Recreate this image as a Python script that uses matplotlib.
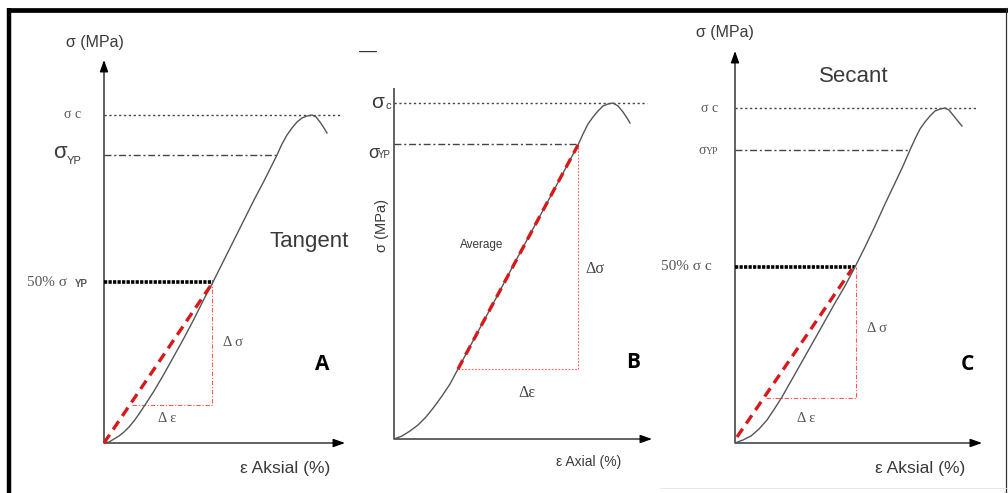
import matplotlib
matplotlib.use("Agg")
import matplotlib.pyplot as plt
from matplotlib.lines import Line2D

W, H = 1008, 493

# ---------------- data (in pixel-like units; x = strain, y = stress) ----------
# Panel A : Tangent
strain_A = [0, 5, 10, 15, 20, 25, 30, 35, 41, 50, 60, 70, 80, 90, 100, 109, 120, 130, 140, 150,
            160, 173, 178, 183, 188, 193, 198, 203, 208, 212, 216, 220, 223]
stress_A = [0, 1, 4, 7, 11, 16, 22, 29, 38, 52, 69, 87, 105, 124, 144, 161, 183, 203, 223, 243,
            262, 288, 299, 308, 315, 321, 325, 327, 328, 326, 321, 315, 310]
sigma_c_A, sigma_yp_A, half_A = 328, 288, 161
x_c_end_A, x_yp_end_A, x_half_end_A = 236, 173, 109
tangent_A = ([0, 107], [0, 158])
tri_A = ([28, 108, 108], [38, 38, 161])

# Panel B : Average
strain_B = [0, 8, 16, 24, 32, 40, 48, 56, 64, 80, 100, 120, 140, 160, 184, 189, 194, 199, 204,
            209, 214, 219, 224, 229, 233, 236]
stress_B = [0, 3, 8, 14, 22, 32, 43, 55, 70, 100, 137, 175, 212, 249, 294, 305, 315, 322, 328,
            333, 335, 336, 333, 327, 321, 316]
sigma_c_B, sigma_yp_B = 336, 295
x_c_end_B, x_yp_end_B = 253, 184
average_B = ([64, 184], [70, 294])
tri_B = ([64, 184, 184], [70, 70, 294])

# Panel C : Secant
strain_C = [0, 8, 16, 24, 32, 40, 47, 60, 73, 86, 100, 110, 120, 130, 140, 150, 160, 168, 175,
            180, 185, 190, 195, 200, 205, 210, 214, 218, 222, 227]
stress_C = [0, 3, 7, 14, 23, 35, 46, 69, 92, 115, 140, 157, 176, 196, 217, 239, 260, 277, 293,
            304, 314, 321, 327, 332, 334, 335, 333, 328, 323, 317]
sigma_c_C, sigma_yp_C, half_C = 335, 293, 176
x_c_end_C, x_yp_end_C, x_half_end_C = 242, 175, 120
secant_C = ([2, 117], [6, 174])
tri_C = ([31, 121, 121], [45, 45, 176])

# origins of the three panels (pixels from the top-left of the picture)
origins = {"A": (104, 443), "B": (394, 439), "C": (735, 443)}
axis_len = {"A": (239, 381), "B": (256, 351), "C": (245, 390)}

SANS = ["Liberation Sans", "DejaVu Sans"]
SERIF = ["Liberation Serif", "DejaVu Serif"]
BOLD = ["Open Sans", "DejaVu Sans"]

CURVE = "#555555"
RED = "#d61a1a"
LRED = "#ff5a5a"
TXT = "#3a3a3a"

fig = plt.figure(figsize=(W / 100, H / 100), dpi=100)
fig.patch.set_facecolor("white")


def panel(key):
    ox, oy = origins[key]
    ax = fig.add_axes([0, 0, 1, 1])
    ax.set_xlim(-ox, W - ox)
    ax.set_ylim(-(H - oy), oy)
    ax.axis("off")
    ax.patch.set_alpha(0)
    return ax


def axes_arrows(ax, key, head_y=True):
    lx, ly = axis_len[key]
    ax.plot([0, lx], [0, 0], color="#555555", lw=1.3, solid_capstyle="butt")
    ax.plot([0, 0], [0, ly], color="#555555", lw=1.3, solid_capstyle="butt")
    ax.annotate("", xy=(lx + 2, 0), xytext=(lx - 8, 0),
                arrowprops=dict(arrowstyle="-|>,head_length=0.7,head_width=0.25",
                                color="black", lw=1.0, shrinkA=0, shrinkB=0))
    if head_y:
        ax.annotate("", xy=(0, ly + 2), xytext=(0, ly - 8),
                    arrowprops=dict(arrowstyle="-|>,head_length=0.7,head_width=0.25",
                                    color="black", lw=1.0, shrinkA=0, shrinkB=0))


dotted = (0, (1.6, 1.9))
dashdot = (0, (5, 2, 1.5, 2))
thickdot = (0, (0.9, 0.35))
reddash = (0, (3.0, 1.9))
reddd = (0, (4, 1.6, 1, 1.6))

# ---------------- Panel A ----------------
ax = panel("A")
axes_arrows(ax, "A")
ax.plot([0, x_c_end_A], [sigma_c_A, sigma_c_A], color="#444444", lw=1.0, ls=dotted)
ax.plot([0, x_yp_end_A], [sigma_yp_A, sigma_yp_A], color="#444444", lw=1.0, ls=dashdot)
ax.plot([0, x_half_end_A], [half_A, half_A], color="black", lw=2.6, ls=thickdot)
ax.plot(tri_A[0], tri_A[1], color=LRED, lw=0.8, ls=reddd)
ax.plot(strain_A, stress_A, color=CURVE, lw=1.0)
ax.plot(tangent_A[0], tangent_A[1], color=RED, lw=2.4, ls=reddash)
ax.text(-9, 401, "σ (MPa)", family=SANS, fontsize=11.5, color=TXT, ha="center", va="center")
ax.text(-23, 328, "σ c", family=SERIF, fontsize=10, color="#555555", ha="right", va="center")
ax.text(-37, 291, "σ", family=SANS, fontsize=16, color=TXT, ha="right", va="center")
ax.text(-22, 282, "YP", family=SANS, fontsize=8, color=TXT, ha="right", va="center")
ax.text(-37, 161, "50% σ", family=SERIF, fontsize=11, color="#555555", ha="right", va="center")
ax.text(-16, 159, "YP", family=SANS, fontsize=7, color="#555555", ha="right", va="center", weight="bold")
ax.text(205, 202, "Tangent", family=SANS, fontsize=16, color=TXT, ha="center", va="center")
ax.text(119, 100, "Δ σ", family=SERIF, fontsize=10.5, color="#555555", ha="left", va="center")
ax.text(54, 25, "Δ ε", family=SERIF, fontsize=10.5, color="#555555", ha="left", va="center")
ax.text(218, 78, "A", family=BOLD, fontsize=15, weight="bold", color="black", ha="center", va="center")
ax.text(181, -25, "ε Aksial (%)", family=SANS, fontsize=12.5, color=TXT, ha="center", va="center")

# ---------------- Panel B ----------------
ax = panel("B")
axes_arrows(ax, "B", head_y=False)
ax.plot([0, x_c_end_B], [sigma_c_B, sigma_c_B], color="#444444", lw=1.0, ls=dotted)
ax.plot([0, x_yp_end_B], [sigma_yp_B, sigma_yp_B], color="#444444", lw=1.0, ls=dashdot)
ax.plot(tri_B[0], tri_B[1], color=LRED, lw=0.8, ls=(0, (1.5, 1.5)))
ax.plot(strain_B, stress_B, color=CURVE, lw=1.0)
ax.plot(average_B[0], average_B[1], color=RED, lw=2.4, ls=reddash)
ax.text(-26, 388, "—", family=SANS, fontsize=13, color="#333333", ha="center", va="center")
ax.text(-10, 337, "σ", family=SANS, fontsize=15, color=TXT, ha="right", va="center")
ax.text(-3, 333, "c", family=SANS, fontsize=8, color=TXT, ha="right", va="center")
ax.text(-15, 286, "σ", family=SANS, fontsize=13, color=TXT, ha="right", va="center")
ax.text(-3, 284, "YP", family=SANS, fontsize=7, color=TXT, ha="right", va="center")
ax.text(-12, 214, "σ (MPa)", family=SANS, fontsize=10.5, color=TXT, ha="center", va="center",
        rotation=90)
ax.text(88, 194, "Average", family=SANS, fontsize=8.5, color=TXT, ha="center", va="center")
ax.text(191, 170, "Δσ", family=SERIF, fontsize=11.5, color="#444444", ha="left", va="center")
ax.text(124, 46, "Δε", family=SERIF, fontsize=11.5, color="#444444", ha="left", va="center")
ax.text(239, 76, "B", family=BOLD, fontsize=15, weight="bold", color="black", ha="center", va="center")
ax.text(195, -23, "ε Axial (%)", family=SANS, fontsize=10, color=TXT, ha="center", va="center")

# ---------------- Panel C ----------------
ax = panel("C")
axes_arrows(ax, "C")
ax.plot([0, x_c_end_C], [sigma_c_C, sigma_c_C], color="#444444", lw=1.0, ls=dotted)
ax.plot([0, x_yp_end_C], [sigma_yp_C, sigma_yp_C], color="#444444", lw=1.0, ls=dashdot)
ax.plot([0, x_half_end_C], [half_C, half_C], color="black", lw=2.6, ls=thickdot)
ax.plot(tri_C[0], tri_C[1], color=LRED, lw=0.8, ls=reddd)
ax.plot(strain_C, stress_C, color=CURVE, lw=1.0)
ax.plot(secant_C[0], secant_C[1], color=RED, lw=2.4, ls=reddash)
ax.text(-10, 410, "σ (MPa)", family=SANS, fontsize=11.5, color=TXT, ha="center", va="center")
ax.text(119, 366, "Secant", family=SANS, fontsize=16, color=TXT, ha="center", va="center")
ax.text(-17, 335, "σ c", family=SERIF, fontsize=10, color="#555555", ha="right", va="center")
ax.text(-29, 293, "σ", family=SERIF, fontsize=10, color="#555555", ha="right", va="center")
ax.text(-17, 291, "YP", family=SERIF, fontsize=7, color="#555555", ha="right", va="center")
ax.text(-23, 176, "50% σ c", family=SERIF, fontsize=11, color="#555555", ha="right", va="center")
ax.text(132, 115, "Δ σ", family=SERIF, fontsize=10.5, color="#555555", ha="left", va="center")
ax.text(62, 25, "Δ ε", family=SERIF, fontsize=10.5, color="#555555", ha="left", va="center")
ax.text(232, 78, "C", family=BOLD, fontsize=15, weight="bold", color="black", ha="center", va="center")
ax.text(185, -25, "ε Aksial (%)", family=SANS, fontsize=12.5, color=TXT, ha="center", va="center")

# ---------------- outer frame ----------------
fr = fig.add_axes([0, 0, 1, 1])
fr.set_xlim(0, W)
fr.set_ylim(H, 0)
fr.axis("off")
fr.patch.set_alpha(0)
fr.add_line(Line2D([9, 9], [8, H], color="black", lw=3.2, solid_capstyle="butt"))
fr.add_line(Line2D([7, W], [10, 10], color="black", lw=3.4, solid_capstyle="butt"))
fr.add_line(Line2D([1006, 1006], [8, H], color="#333333", lw=0.9))
fr.add_line(Line2D([660, W], [488, 488], color="#e4e4e4", lw=0.6))

fig.savefig("out.png", dpi=100, facecolor="white")
